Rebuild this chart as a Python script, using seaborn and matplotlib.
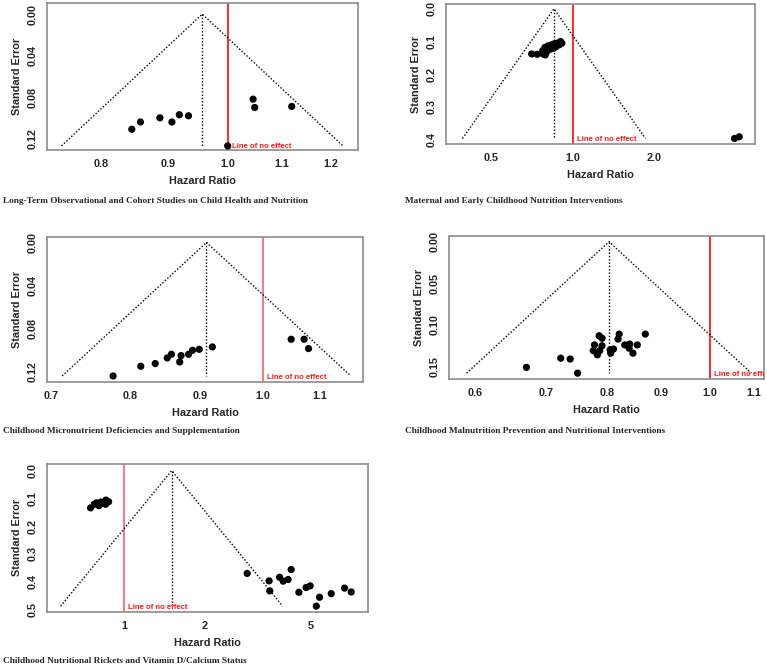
import numpy as np
import matplotlib
matplotlib.use("Agg")
import matplotlib.pyplot as plt
import matplotlib.transforms as mtransforms
from matplotlib.ticker import FixedLocator, FixedFormatter, NullLocator
import seaborn as sns

# Panel data: hazard ratio and standard error per study
hr1 = [0.844, 0.857, 0.887, 0.906, 0.918, 0.933, 1.000, 1.046, 1.049, 1.120]
se1 = [0.111, 0.104, 0.100, 0.104, 0.097, 0.098, 0.127, 0.082, 0.090, 0.089]

hr2 = [0.704, 0.738, 0.773, 0.776, 0.788, 0.800, 0.790, 0.810, 0.822, 0.834,
       0.846, 0.853, 0.865, 0.875, 0.890, 0.900, 0.910, 3.95, 4.11]
se2 = [0.138, 0.139, 0.128, 0.138, 0.118, 0.131, 0.141, 0.113, 0.124, 0.110,
       0.121, 0.107, 0.116, 0.105, 0.110, 0.100, 0.105, 0.397, 0.392]

hr3 = [0.777, 0.814, 0.834, 0.851, 0.857, 0.869, 0.871, 0.882, 0.888, 0.898,
       0.918, 1.048, 1.071, 1.079]
se3 = [0.1237, 0.1147, 0.1122, 0.107, 0.1036, 0.1107, 0.1048, 0.1036, 0.0999,
       0.099, 0.0968, 0.0897, 0.0897, 0.0983]

hr4 = [0.671, 0.723, 0.738, 0.750, 0.786, 0.791, 0.778, 0.791, 0.776, 0.783,
       0.787, 0.805, 0.811, 0.806, 0.819, 0.821, 0.831, 0.840, 0.839, 0.846,
       0.854, 0.869]
se4 = [0.151, 0.140, 0.141, 0.158, 0.113, 0.116, 0.124, 0.125, 0.131, 0.136,
       0.131, 0.130, 0.129, 0.134, 0.117, 0.111, 0.124, 0.123, 0.128, 0.134,
       0.124, 0.111]

hr5 = [0.750, 0.774, 0.790, 0.806, 0.820, 0.837, 0.854, 0.856, 0.876,
       2.89, 3.49, 3.51, 3.82, 3.94, 4.11, 4.22, 4.51, 4.80, 4.97, 5.24, 5.39,
       5.96, 6.68, 7.08]
se5 = [0.134, 0.121, 0.116, 0.126, 0.113, 0.118, 0.121, 0.106, 0.112,
       0.370, 0.397, 0.433, 0.384, 0.398, 0.392, 0.356, 0.438, 0.421, 0.415,
       0.488, 0.456, 0.443, 0.423, 0.437]

pooled = [0.956, 0.851, 0.909, 0.803, 1.508]

captions = [
    "Long-Term Observational and Cohort Studies on Child Health and Nutrition",
    "Maternal and Early Childhood Nutrition Interventions",
    "Childhood Micronutrient Deficiencies and Supplementation",
    "Childhood Malnutrition Prevention and Nutritional Interventions",
    "Childhood Nutritional Rickets and Vitamin D/Calcium Status",
]

xticks = [[0.8, 0.9, 1.0, 1.1, 1.2], [0.5, 1.0, 2.0], [0.7, 0.8, 0.9, 1.0, 1.1],
          [0.6, 0.7, 0.8, 0.9, 1.0, 1.1], [1, 2, 5]]
xticklabels = [["0.8", "0.9", "1.0", "1.1", "1.2"], ["0.5", "1.0", "2.0"],
               ["0.7", "0.8", "0.9", "1.0", "1.1"],
               ["0.6", "0.7", "0.8", "0.9", "1.0", "1.1"], ["1", "2", "5"]]
yticks = [[0.0, 0.02, 0.04, 0.06, 0.08, 0.10, 0.12], [0.0, 0.1, 0.2, 0.3, 0.4],
          [0.0, 0.02, 0.04, 0.06, 0.08, 0.10, 0.12], [0.0, 0.05, 0.10, 0.15],
          [0.0, 0.1, 0.2, 0.3, 0.4, 0.5]]
yticklabels = [["0.00", "", "0.04", "", "0.08", "", "0.12"],
               ["0.0", "0.1", "0.2", "0.3", "0.4"],
               ["0.00", "", "0.04", "", "0.08", "", "0.12"],
               ["0.00", "0.05", "0.10", "0.15"],
               ["0.0", "0.1", "0.2", "0.3", "0.4", "0.5"]]

xlims = [(0.726, 1.26), (0.339, 4.70), (0.695, 1.183), (0.567, 1.125), (0.514, 8.2)]
ylims = [(0.131, -0.011), (0.414, -0.015), (0.129, -0.0053), (0.165, -0.0072), (0.508, -0.024)]
red_colors = ["#ff1a1a", "#ff1a1a", "#f47070", "#ff1a1a", "#f47070"]

# layout in pixels (left, top, right, bottom) and caption anchors
W, H = 767, 668
boxes = [(46.7, 2.7, 358.3, 150), (445.7, 4, 755, 144), (46.7, 236.7, 363.3, 381.7),
         (449, 235.7, 764, 379), (46.7, 464, 368.3, 611.7)]
cap_pos = [(3, 201), (405, 201), (3, 431), (405, 431), (3, 661)]

sns.set_style("white")
plt.rcParams["font.family"] = ["Liberation Sans", "DejaVu Sans"]

fig = plt.figure(figsize=(W / 100, H / 100), dpi=100)

data = [(hr1, se1), (hr2, se2), (hr3, se3), (hr4, se4), (hr5, se5)]
for i, (hr, se) in enumerate(data):
    l, t, r, b = boxes[i]
    ax = fig.add_axes([l / W, 1 - b / H, (r - l) / W, (b - t) / H])
    ax.set_xscale("log")

    # funnel from the pooled estimate down to the largest SE
    se_max = max(se)
    est = pooled[i]
    lo = np.exp(np.log(est) - 1.96 * se_max)
    hi = np.exp(np.log(est) + 1.96 * se_max)
    ax.plot([lo, est, hi], [se_max, 0, se_max], color="black", ls=(0, (1, 1.4)), lw=1.0)
    ax.plot([est, est], [0, se_max], color="black", ls=(0, (1, 1.4)), lw=1.0)

    ax.axvline(1.0, color=red_colors[i], lw=1.3, zorder=1)
    off = mtransforms.offset_copy(ax.transData, fig=fig, x=4, y=0, units="dots")
    ax.text(1.0, se_max + (ylims[i][0] - se_max) * 0.25, "Line of no effect",
            transform=off, color="#ff1a1a", fontsize=5.6, fontweight="bold",
            va="center", ha="left", clip_on=True)

    sns.scatterplot(x=hr, y=se, ax=ax, color="black", s=27, edgecolor="none",
                    zorder=3, legend=False)

    ax.set_xlim(*xlims[i])
    ax.set_ylim(*ylims[i])
    ax.xaxis.set_major_locator(FixedLocator(xticks[i]))
    ax.xaxis.set_major_formatter(FixedFormatter(xticklabels[i]))
    ax.xaxis.set_minor_locator(NullLocator())
    ax.set_yticks(yticks[i])
    ax.set_yticklabels(yticklabels[i], rotation=90, va="center")
    ax.tick_params(axis="both", which="major", length=3, width=1, color="#8c8c8c",
                   labelsize=7.8, pad=3.5, direction="out")
    for lab in ax.get_xticklabels() + ax.get_yticklabels():
        lab.set_fontweight("bold")
    ax.set_xlabel("Hazard Ratio", fontsize=7.8, fontweight="bold", labelpad=5)
    ax.set_ylabel("Standard Error", fontsize=7.8, fontweight="bold", labelpad=4)
    for sp in ax.spines.values():
        sp.set_color("#8c8c8c")
        sp.set_linewidth(1.2)
        sp.set_visible(True)

    cx, cy = cap_pos[i]
    fig.text(cx / W, 1 - cy / H, captions[i], fontsize=6.7, fontweight="bold",
             family=["Liberation Serif", "DejaVu Serif"], va="center", ha="left")

fig.savefig("out.png", dpi=100)
